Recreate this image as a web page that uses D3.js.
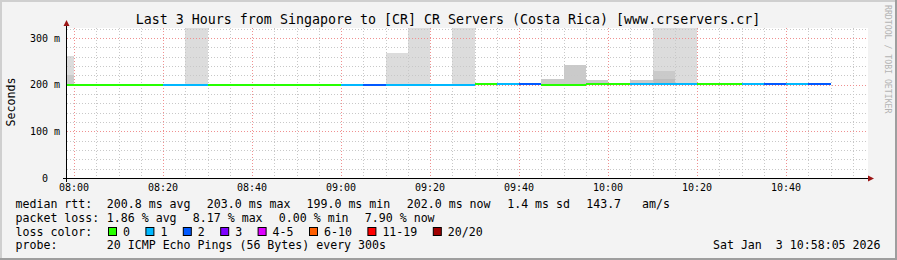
<!DOCTYPE html>
<html>
<head>
<meta charset="utf-8">
<script src="https://cdn.jsdelivr.net/npm/d3@7/dist/d3.min.js"></script>
<style>
  body { margin: 0; background: #fff; }
  svg { display: block; }
  text { font-family: "DejaVu Sans Mono", monospace; fill: #000; }
</style>
</head>
<body>
<svg width="897" height="260"></svg>
<script>
// --- data ---
var title = "Last 3 Hours from Singapore to [CR] CR Servers (Costa Rica) [www.crservers.cr]";
var firstBin = new Date(2026, 0, 3, 7, 55, 0);   // 5 minute steps
var stepMinutes = 5;

// lost pings (of 20) per step -> colour of the median line
var loss = [0, 0, 0, 0, 0, 1, 1, 0, 0, 0, 0, 0, 0, 1, 2, 1, 1, 1, 1, 0,
            1, 2, 0, 0, 0, 0, 1, 1, 1, 0, 0, 1, 2, 1, 2];
// median rtt in ms per step
var median = [200.2, 200.2, 200.2, 200.2, 200.2, 200.0, 200.0, 200.2, 200.2, 200.2,
              200.2, 200.2, 200.2, 200.0, 199.8, 199.6, 199.6, 199.5, 199.5, 201.9,
              201.6, 201.9, 199.0, 199.2, 201.8, 201.9, 201.5, 201.4, 201.5, 202.0,
              202.1, 201.8, 202.3, 201.9, 202.2];
// smoke tops (ms); null = no smoke of that shade
var smokeLight = [261, null, null, null, null, null, 400, null, null, null,
                  null, null, null, null, null, 268, 400, null, 400, null,
                  null, null, null, null, null, null, null, 400, 400, null,
                  null, null, null, null, null];
var smokeMedium = [220, null, null, null, null, null, null, null, null, null,
                   null, null, null, null, null, null, null, null, null, null,
                   null, null, 212, 242, 210, null, 210, 229, null, null,
                   null, null, null, null, null];
var smokeDark = [null, null, null, null, null, null, null, null, null, null,
                 null, null, null, null, null, null, null, null, null, null,
                 null, null, null, null, null, null, null, 212, null, null,
                 null, null, null, null, null];

var lossLabels = ["0", "1", "2", "3", "4-5", "6-10", "11-19", "20/20"];
var lossColors = ["#26ff00", "#00b8ff", "#0059ff", "#7e00ff", "#dd00ff", "#ff5e00", "#ff0000", "#a00000"];

var yMajor = [0, 100, 200, 300];
var yLabels = ["0  ", "100 m", "200 m", "300 m"];

var rttLegend = ["median rtt:", "200.8 ms avg", "203.0 ms max", "199.0 ms min", "202.0 ms now", "1.4 ms sd", "143.7   am/s"];
var lossLegend = ["packet loss:", "1.86 % avg", "8.17 % max", "0.00 % min", "7.90 % now"];
var probeLegend = ["probe:", "20 ICMP Echo Pings (56 Bytes) every 300s"];
var stamp = "Sat Jan  3 10:58:05 2026";

// --- drawing ---
var svg = d3.select("svg");
var W = 897, H = 260;
var plotL = 67, plotR = 868, plotT = 28, plotB = 178;

function keep(s) { return s.replace(/ /g, "\u00a0"); }

var t0 = new Date(2026, 0, 3, 7, 58, 25);
var t1 = d3.timeHour.offset(t0, 3);
var x = d3.scaleTime().domain([t0, t1]).range([plotL, plotR]).clamp(true);
var y = d3.scaleLinear().domain([0, 321.43]).range([plotB, plotT]).clamp(true);

// frame
svg.append("rect").attr("width", W).attr("height", H).attr("fill", "#f3f3f3");
svg.append("rect").attr("x", 0).attr("y", 0).attr("width", W).attr("height", 2).attr("fill", "#cfcfcf");
svg.append("rect").attr("x", 0).attr("y", 0).attr("width", 2).attr("height", H).attr("fill", "#cfcfcf");
svg.append("rect").attr("x", 0).attr("y", H - 2).attr("width", W).attr("height", 2).attr("fill", "#9e9e9e");
svg.append("rect").attr("x", W - 2).attr("y", 0).attr("width", 2).attr("height", H).attr("fill", "#9e9e9e");

svg.append("rect").attr("x", plotL).attr("y", plotT).attr("width", plotR - plotL).attr("height", plotB - plotT)
  .attr("fill", "#fff");

var bins = median.map(function(m, i) {
  var s = d3.timeMinute.offset(firstBin, i * stepMinutes);
  return {start: s, end: d3.timeMinute.offset(s, stepMinutes), median: m, loss: loss[i],
          light: smokeLight[i], medium: smokeMedium[i], dark: smokeDark[i]};
});

// smoke
var smoke = svg.append("g").attr("shape-rendering", "crispEdges");
[["light", "#dcdcdc"], ["medium", "#cacaca"], ["dark", "#bdbdbd"]].forEach(function(layer) {
  smoke.selectAll(".s-" + layer[0])
    .data(bins.filter(function(d) { return d[layer[0]] != null; }))
    .enter().append("rect")
    .attr("class", "s-" + layer[0])
    .attr("x", function(d) { return Math.round(x(d.start)); })
    .attr("width", function(d) { return Math.round(x(d.end)) - Math.round(x(d.start)); })
    .attr("y", function(d) { return Math.round(y(d[layer[0]])); })
    .attr("height", function(d) { return Math.round(y(d.median)) - Math.round(y(d[layer[0]])); })
    .attr("fill", layer[1]);
});

// grid
var grid = svg.append("g").attr("fill", "none").attr("stroke-width", 1).attr("stroke-dasharray", "1,2");
var minorY = d3.range(20, 321, 20).filter(function(v) { return v % 100 !== 0; });
grid.selectAll(".hmin").data(minorY).enter().append("line")
  .attr("x1", plotL).attr("x2", plotR)
  .attr("y1", function(d) { return Math.round(y(d)) + 0.5; })
  .attr("y2", function(d) { return Math.round(y(d)) + 0.5; })
  .attr("stroke", "#c8c8c8");
var minorX = x.ticks(d3.timeMinute.every(5)).filter(function(d) { return d.getMinutes() % 20 !== 0; });
grid.selectAll(".vmin").data(minorX).enter().append("line")
  .attr("x1", function(d) { return Math.round(x(d)) + 0.5; })
  .attr("x2", function(d) { return Math.round(x(d)) + 0.5; })
  .attr("y1", plotT).attr("y2", plotB)
  .attr("stroke", "#c8c8c8");
grid.selectAll(".hmaj").data(yMajor.slice(1)).enter().append("line")
  .attr("x1", plotL).attr("x2", plotR)
  .attr("y1", function(d) { return Math.round(y(d)) + 0.5; })
  .attr("y2", function(d) { return Math.round(y(d)) + 0.5; })
  .attr("stroke", "#f09090");
var majorX = x.ticks(d3.timeMinute.every(20));
grid.selectAll(".vmaj").data(majorX).enter().append("line")
  .attr("x1", function(d) { return Math.round(x(d)) + 0.5; })
  .attr("x2", function(d) { return Math.round(x(d)) + 0.5; })
  .attr("y1", plotT).attr("y2", plotB)
  .attr("stroke", "#f09090");

// median line coloured by loss
svg.append("g").attr("shape-rendering", "crispEdges")
  .selectAll("rect").data(bins).enter().append("rect")
  .attr("x", function(d) { return Math.round(x(d.start)); })
  .attr("width", function(d) { return Math.round(x(d.end)) - Math.round(x(d.start)); })
  .attr("y", function(d) { return Math.round(y(d.median)) - 1; })
  .attr("height", 2)
  .attr("fill", function(d) { return lossColors[d.loss]; });

// axes
svg.append("line").attr("x1", plotL - 4).attr("x2", plotR).attr("y1", plotB + 0.5).attr("y2", plotB + 0.5)
  .attr("stroke", "#000");
svg.append("line").attr("x1", plotL - 0.5).attr("x2", plotL - 0.5).attr("y1", plotT - 2).attr("y2", plotB + 4)
  .attr("stroke", "#000");
svg.append("path").attr("d", "M" + (plotL - 0.5) + ",20 L" + (plotL - 3.5) + ",26 L" + (plotL + 2.5) + ",26 Z")
  .attr("fill", "#9b1515");
svg.append("path").attr("d", "M874,178.5 L868,175.5 L868,181.5 Z").attr("fill", "#9b1515");

// tick labels
svg.selectAll(".ylab").data(yMajor).enter().append("text")
  .attr("x", 60).attr("y", function(d) { return y(d) + 3.5; })
  .attr("text-anchor", "end").attr("font-size", "10px")
  .text(function(d, i) { return keep(yLabels[i]); });
var fmt = d3.timeFormat("%H:%M");
svg.selectAll(".xlab").data(majorX).enter().append("text")
  .attr("x", function(d) { return x(d); }).attr("y", 191)
  .attr("text-anchor", "middle").attr("font-size", "10px")
  .text(fmt);

// titles
svg.append("text").attr("x", 448).attr("y", 23.5).attr("text-anchor", "middle")
  .attr("font-size", "13.3px").text(title);
svg.append("text").attr("transform", "translate(15,102) rotate(-90)").attr("text-anchor", "middle")
  .attr("font-size", "11.6px").text("Seconds");
svg.append("text").attr("transform", "translate(885,5) rotate(90)")
  .attr("font-size", "8.2px").style("fill", "#b4b4b4").text("RRDTOOL / TOBI OETIKER");

// legend
var legend = svg.append("g").attr("font-size", "11.6px");
var rttX = [15.5, 106.8, 206.8, 306.5, 406.8, 507.2, 586.2];
rttLegend.forEach(function(s, i) {
  legend.append("text").attr("x", rttX[i]).attr("y", 208.3).text(keep(s));
});
var lossX = [15.5, 106.8, 192.8, 278.8, 364.8];
lossLegend.forEach(function(s, i) {
  legend.append("text").attr("x", lossX[i]).attr("y", 222).text(keep(s));
});
legend.append("text").attr("x", 15.5).attr("y", 235.7).text(keep("loss color:"));
var cx = 108.5, cw = 7.0;
lossLabels.forEach(function(s, i) {
  legend.append("rect").attr("x", cx).attr("y", 227.5).attr("width", 8).attr("height", 8)
    .attr("fill", lossColors[i]).attr("stroke", "#000").attr("stroke-width", 1);
  legend.append("text").attr("x", cx + 14.5).attr("y", 235.7).text(s);
  cx = cx + 15 + s.length * cw + 15.4;
});
legend.append("text").attr("x", 15.5).attr("y", 249.3).text(probeLegend[0]);
legend.append("text").attr("x", 106.8).attr("y", 249.3).text(keep(probeLegend[1]));
legend.append("text").attr("x", 880.5).attr("y", 249.3).attr("text-anchor", "end").text(keep(stamp));
</script>
</body>
</html>
